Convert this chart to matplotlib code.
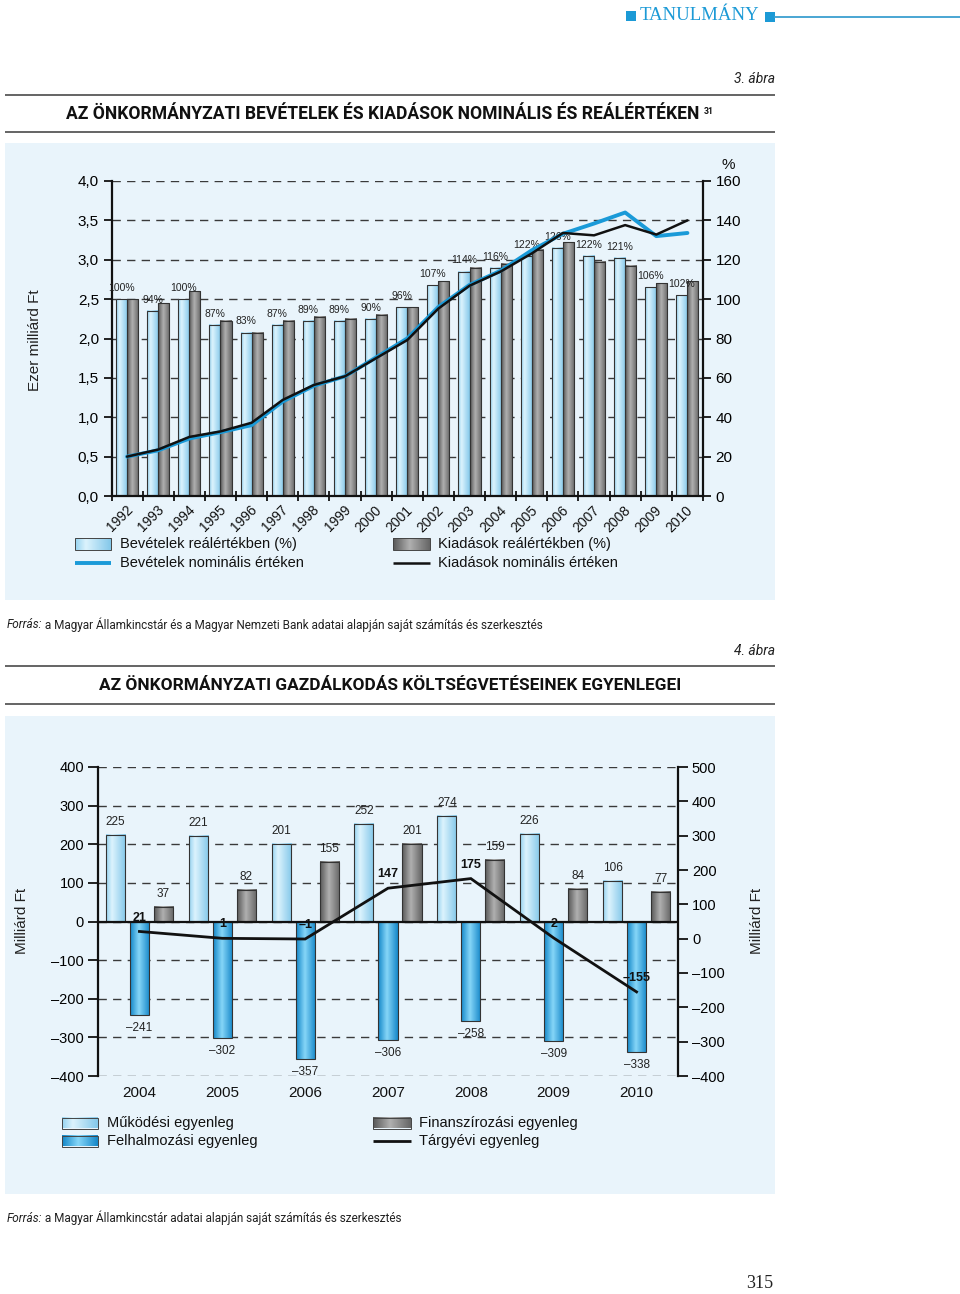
import numpy as np
import matplotlib
matplotlib.use('Agg')
import matplotlib.pyplot as plt
from matplotlib.colors import LinearSegmentedColormap
from matplotlib.patches import Rectangle

# ---------------- DATA: 3. ábra ----------------
years1 = ['1992', '1993', '1994', '1995', '1996', '1997', '1998', '1999', '2000', '2001',
          '2002', '2003', '2004', '2005', '2006', '2007', '2008', '2009', '2010']
rev_real = [100, 94, 100, 87, 83, 87, 89, 89, 90, 96, 107, 114, 116, 122, 126, 122, 121, 106, 102]
exp_real = [100, 98, 104, 89, 83, 89, 91, 90, 92, 96, 109, 116, 118, 125, 129, 119, 117, 108, 109]
rev_nom = [0.50, 0.58, 0.73, 0.81, 0.90, 1.20, 1.40, 1.52, 1.76, 2.00, 2.40, 2.68, 2.86, 3.12,
           3.33, 3.46, 3.60, 3.30, 3.34]
exp_nom = [0.50, 0.59, 0.75, 0.82, 0.93, 1.22, 1.41, 1.52, 1.75, 1.98, 2.38, 2.67, 2.85, 3.08,
           3.34, 3.31, 3.44, 3.32, 3.50]
left1_ticks = [0.0, 0.5, 1.0, 1.5, 2.0, 2.5, 3.0, 3.5, 4.0]
left1_labels = ['0,0', '0,5', '1,0', '1,5', '2,0', '2,5', '3,0', '3,5', '4,0']
right1_ticks = [0, 20, 40, 60, 80, 100, 120, 140, 160]
right1_labels = ['0', '20', '40', '60', '80', '100', '120', '140', '160']

# ---------------- DATA: 4. ábra ----------------
years2 = ['2004', '2005', '2006', '2007', '2008', '2009', '2010']
mukodesi = [225, 221, 201, 252, 274, 226, 106]
felhalm = [-241, -302, -357, -306, -258, -309, -338]
finansz = [37, 82, 155, 201, 159, 84, 77]
targyevi = [21, 1, -1, 147, 175, 2, -155]
left2_ticks = [-400, -300, -200, -100, 0, 100, 200, 300, 400]
left2_labels = ['–400', '–300', '–200', '–100', '0', '100', '200', '300', '400']
right2_ticks = [-400, -300, -200, -100, 0, 100, 200, 300, 400, 500]
right2_labels = ['–400', '–300', '–200', '–100', '0', '100', '200', '300', '400', '500']

# ---------------- fonts ----------------
plt.rcParams['font.family'] = ['Liberation Sans', 'DejaVu Sans']
SERIF = ['Liberation Serif', 'DejaVu Serif']
NARROW = ['Roboto', 'Liberation Sans', 'DejaVu Sans']

W, H = 960, 1294
fig = plt.figure(figsize=(W / 100, H / 100), dpi=100)
fig.patch.set_facecolor('white')
renderer = fig.canvas.get_renderer()

bg = fig.add_axes([0, 0, 1, 1], zorder=0)
bg.set_xlim(0, W)
bg.set_ylim(H, 0)
bg.axis('off')

PANEL = '#e9f4fb'
RULE = '#4a4a4a'
BLUE_HDR = '#1c9ad6'


def fit(t, target):
    w = t.get_window_extent(renderer).width
    t.set_fontsize(t.get_fontsize() * target / w)


def grad(stops):
    cm = LinearSegmentedColormap.from_list('g', stops)
    return cm(np.linspace(0, 1, 64))[None, :, :3]


G_LIGHT = grad([(0, '#96d3f0'), (0.3, '#dcf3fd'), (1, '#84c8ea')])
G_GRAY = grad([(0, '#585858'), (0.45, '#b0b0b0'), (1, '#666666')])
G_DARK = grad([(0, '#1387c8'), (0.45, '#86d6f8'), (1, '#1688c9')])


def gradient_bars(ax, bars, img):
    xl, yl = ax.get_xlim(), ax.get_ylim()
    for b in bars:
        x0, w = b.get_x(), b.get_width()
        y0, h = b.get_y(), b.get_height()
        ax.imshow(img, extent=(x0, x0 + w, min(y0, y0 + h), max(y0, y0 + h)),
                  aspect='auto', interpolation='bilinear', zorder=b.get_zorder() - 0.05)
        b.set_facecolor('none')
    ax.set_xlim(xl)
    ax.set_ylim(yl)


def px_axes(l, r, t, b, **kw):
    return fig.add_axes([l / W, 1 - b / H, (r - l) / W, (b - t) / H], **kw)


# ---------------- page furniture ----------------
bg.add_patch(Rectangle((626, 11), 10, 10, fc=BLUE_HDR, ec='none'))
t = bg.text(640, 16, 'TANULMÁNY', family=SERIF, color=BLUE_HDR, fontsize=13, va='center', ha='left')
fit(t, 119)
bg.add_patch(Rectangle((765, 12), 10, 10, fc=BLUE_HDR, ec='none'))
bg.plot([775, 960], [17, 17], color='#3a9fd0', lw=1.3)

for y in (95, 132, 666, 704):
    bg.plot([5, 775], [y, y], color=RULE, lw=1.2, solid_capstyle='butt')

for yy, num in ((79, '3. ábra'), (651, '4. ábra')):
    t = bg.text(775, yy, num, fontsize=12, ha='right', va='center', color='#222',
                family=NARROW, style='italic')
    fit(t, 41)

t1 = bg.text(66, 114, 'AZ ÖNKORMÁNYZATI BEVÉTELEK ÉS KIADÁSOK NOMINÁLIS ÉS REÁLÉRTÉKEN',
             ha='left', va='center', color='#111', family=NARROW, fontweight='bold', fontsize=16)
fit(t1, 634)
bg.annotate('31', xy=(1, 0.62), xycoords=t1, xytext=(3, 0), textcoords='offset points',
            ha='left', va='center', color='#111', family=NARROW, fontweight='bold',
            fontsize=t1.get_fontsize() * 0.5)

t2 = bg.text(99, 686, 'AZ ÖNKORMÁNYZATI GAZDÁLKODÁS KÖLTSÉGVETÉSEINEK EGYENLEGEI',
             ha='left', va='center', color='#111', family=NARROW, fontweight='bold', fontsize=16)
fit(t2, 582)


def source(y, rest, target):
    a = bg.text(7, y, 'Forrás:', ha='left', va='center', color='#222', family=NARROW,
                style='italic', fontsize=10)
    b = bg.text(7, y, ' ' + rest, ha='left', va='center', color='#222', family=NARROW, fontsize=10)
    wa = a.get_window_extent(renderer).width
    wb = b.get_window_extent(renderer).width
    s = target / (wa + wb)
    a.set_fontsize(10 * s)
    b.set_fontsize(10 * s)
    wa = a.get_window_extent(renderer).width
    b.set_x(7 + wa)


source(625, 'a Magyar Államkincstár és a Magyar Nemzeti Bank adatai alapján saját számítás és szerkesztés', 541)
source(1218, 'a Magyar Államkincstár adatai alapján saját számítás és szerkesztés', 397)

bg.text(773, 1283, '315', family=SERIF, fontsize=13, ha='right', va='center', color='#222')

bg.add_patch(Rectangle((5, 143), 770, 457, fc=PANEL, ec='none', zorder=0))
bg.add_patch(Rectangle((5, 716), 770, 478, fc=PANEL, ec='none', zorder=0))

# ---------------- 3. ábra ----------------
ax1 = px_axes(111.5, 703, 181, 496, zorder=2)
ax1.patch.set_visible(False)
axv = ax1.twinx()
axv.set_zorder(3)
x1 = np.arange(len(years1))
bw = 0.355
b_rev = ax1.bar(x1 - bw / 2, rev_real, bw, edgecolor='#333333', linewidth=0.8, zorder=2)
b_exp = ax1.bar(x1 + bw / 2, exp_real, bw, edgecolor='#333333', linewidth=0.8, zorder=2)
ax1.set_xlim(-0.5, len(years1) - 0.5)
ax1.set_ylim(0, 160)
gradient_bars(ax1, b_rev, G_LIGHT)
gradient_bars(ax1, b_exp, G_GRAY)
for xi, v in zip(x1, rev_real):
    ax1.annotate(f'{v}%', (xi - bw / 2, v), xytext=(0, 8), textcoords='offset points',
                 ha='center', va='center', fontsize=7.5, color='#222', zorder=4)

ax1.yaxis.tick_right()
ax1.set_yticks(right1_ticks, right1_labels)
ax1.set_xticks(np.arange(-0.5, len(years1), 1), [])
ax1.tick_params(axis='x', direction='inout', length=7, width=1.3, color='#111')
ax1.tick_params(axis='y', direction='out', length=6, width=1.3, labelsize=11, pad=3, color='#111')
ax1.set_axisbelow(True)
ax1.grid(axis='y', linestyle=(0, (6, 4.5)), color='#3a3a3a', lw=1)
for s in ('left', 'right', 'bottom'):
    ax1.spines[s].set_linewidth(1.6)
    ax1.spines[s].set_color('#111')
ax1.spines['top'].set_visible(False)

axv.plot(x1, rev_nom, color='#1a9ad8', lw=2.8, solid_joinstyle='round', solid_capstyle='round', zorder=3)
axv.plot(x1, exp_nom, color='#111111', lw=1.8, solid_joinstyle='round', solid_capstyle='round', zorder=4)
axv.set_ylim(0, 4.0)
axv.yaxis.tick_left()
axv.set_yticks(left1_ticks, left1_labels)
axv.tick_params(axis='y', direction='out', length=6, width=1.3, labelsize=11, pad=3, color='#111')
for s in axv.spines.values():
    s.set_visible(False)

for xi, yl in zip(x1, years1):
    ax1.text(xi - 0.05, -0.022, yl, transform=ax1.get_xaxis_transform(), rotation=45,
             ha='right', va='top', rotation_mode='anchor', fontsize=10, color='#111')

bg.text(728, 165, '%', fontsize=11, ha='center', va='center', color='#111')
bg.text(35, 340, 'Ezer milliárd Ft', rotation=90, fontsize=11, ha='center', va='center', color='#222')


# legend 3
def grad_patch(x0, x1_, yc, h, img):
    bg.imshow(img, extent=(x0, x1_, yc + h / 2, yc - h / 2), aspect='auto',
              interpolation='bilinear', zorder=2)
    bg.add_patch(Rectangle((x0, yc - h / 2), x1_ - x0, h, fc='none', ec='#444', lw=0.7, zorder=3))


grad_patch(75, 111, 544, 12, G_LIGHT)
bg.text(120, 544, 'Bevételek reálértékben (%)', fontsize=10.5, va='center', color='#111')
bg.plot([75, 111], [563, 563], color='#1a9ad8', lw=2.8, solid_capstyle='butt')
bg.text(120, 563, 'Bevételek nominális értéken', fontsize=10.5, va='center', color='#111')
grad_patch(393, 430, 544, 12, G_GRAY)
bg.text(438, 544, 'Kiadások reálértékben (%)', fontsize=10.5, va='center', color='#111')
bg.plot([393, 430], [563, 563], color='#111', lw=1.8, solid_capstyle='butt')
bg.text(438, 563, 'Kiadások nominális értéken', fontsize=10.5, va='center', color='#111')

# ---------------- 4. ábra ----------------
ax2 = px_axes(98, 678, 767, 1076, zorder=2)
ax2.patch.set_visible(False)
ax2r = ax2.twinx()
ax2r.set_zorder(3)
x2 = np.arange(len(years2))
bw2 = 0.23
off = 0.29
bm = ax2.bar(x2 - off, mukodesi, bw2, edgecolor='#333333', linewidth=0.8, zorder=2)
bf = ax2.bar(x2, felhalm, bw2, edgecolor='#333333', linewidth=0.8, zorder=2)
bn = ax2.bar(x2 + off, finansz, bw2, edgecolor='#333333', linewidth=0.8, zorder=2)
ax2.set_xlim(-0.5, len(years2) - 0.5)
ax2.set_ylim(-400, 400)
gradient_bars(ax2, bm, G_LIGHT)
gradient_bars(ax2, bf, G_DARK)
gradient_bars(ax2, bn, G_GRAY)


def fmt(v):
    return str(v).replace('-', '–')


for xi, v in zip(x2, mukodesi):
    ax2.annotate(fmt(v), (xi - off, v), xytext=(0, 5), textcoords='offset points',
                 ha='center', va='bottom', fontsize=8.5, color='#222', zorder=5)
for xi, v in zip(x2, finansz):
    ax2.annotate(fmt(v), (xi + off, v), xytext=(0, 5), textcoords='offset points',
                 ha='center', va='bottom', fontsize=8.5, color='#222', zorder=5)
for xi, v in zip(x2, felhalm):
    ax2.annotate(fmt(v), (xi, v), xytext=(0, -5), textcoords='offset points',
                 ha='center', va='top', fontsize=8.5, color='#222', zorder=5)

ax2.axhline(0, color='#111', lw=1.6, zorder=3)
ax2.set_yticks(left2_ticks, left2_labels)
ax2.set_xticks(x2, years2)
ax2.tick_params(axis='x', length=0, labelsize=11, pad=7, colors='#111')
ax2.tick_params(axis='y', direction='out', length=7, width=1.3, labelsize=10.5, pad=3, color='#111')
ax2.set_axisbelow(True)
ax2.grid(axis='y', linestyle=(0, (6, 4.5)), color='#3a3a3a', lw=1)
for s in ('left', 'right'):
    ax2.spines[s].set_linewidth(1.6)
    ax2.spines[s].set_color('#111')
ax2.spines['top'].set_visible(False)
ax2.spines['bottom'].set_visible(False)

ax2r.plot(x2, targyevi, color='#111', lw=2.0, solid_joinstyle='miter', zorder=4)
ax2r.set_ylim(-400, 500)
ax2r.set_yticks(right2_ticks, right2_labels)
ax2r.tick_params(axis='y', direction='out', length=7, width=1.3, labelsize=10.5, pad=3, color='#111')
for s in ax2r.spines.values():
    s.set_visible(False)
for xi, v in zip(x2, targyevi):
    ax2r.annotate(fmt(v), (xi, v), xytext=(0, 10), textcoords='offset points',
                  ha='center', va='center', fontsize=9, fontweight='bold', color='#111', zorder=6)

bg.text(22, 921, 'Milliárd Ft', rotation=90, fontsize=11, ha='center', va='center', color='#222')
bg.text(757, 921, 'Milliárd Ft', rotation=90, fontsize=11, ha='center', va='center', color='#222')

grad_patch(62, 98, 1123, 11, G_LIGHT)
bg.text(107, 1123, 'Működési egyenleg', fontsize=10.5, va='center', color='#111')
grad_patch(62, 98, 1141, 11, G_DARK)
bg.text(107, 1141, 'Felhalmozási egyenleg', fontsize=10.5, va='center', color='#111')
grad_patch(373, 411, 1123, 11, G_GRAY)
bg.text(419, 1123, 'Finanszírozási egyenleg', fontsize=10.5, va='center', color='#111')
bg.plot([373, 411], [1141, 1141], color='#111', lw=2.0, solid_capstyle='butt')
bg.text(419, 1141, 'Tárgyévi egyenleg', fontsize=10.5, va='center', color='#111')

bg.set_xlim(0, W)
bg.set_ylim(H, 0)

fig.savefig('out.png', dpi=100, facecolor='white')
